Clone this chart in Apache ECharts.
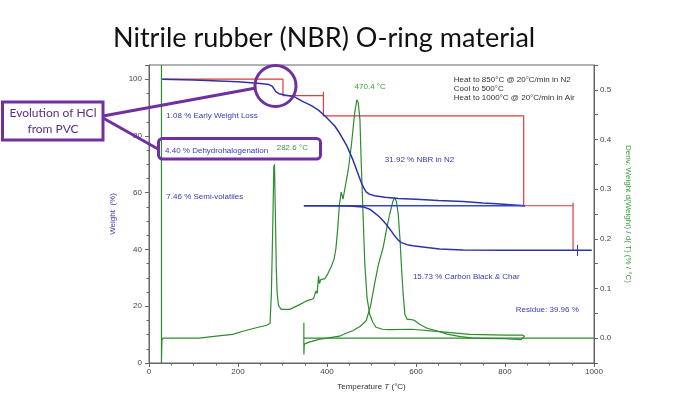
<!DOCTYPE html>
<html>
<head>
<meta charset="utf-8">
<title>Nitrile rubber (NBR) O-ring material</title>
<script src="https://cdn.jsdelivr.net/npm/echarts@6/dist/echarts.min.js"></script>
<style>
  html, body { margin: 0; padding: 0; background: #fff; }
  #chart { width: 677px; height: 400px; }
</style>
</head>
<body>
<div id="chart"></div>
<script>
  // weight (%) vs temperature (°C)
  const weightN2 = [
    [30, 100], [100, 99.7], [200, 99.1], [250, 98.5], [270, 98.1], [277, 97.5],
    [281, 96.6], [285, 95.6], [292, 94.9], [305, 94.4], [327, 93.8], [345, 92.2],
    [365, 90.7], [380, 89.2], [395, 87.1], [405, 85.5], [417, 83.6], [427, 81.3],
    [436, 78.9], [444, 76.7], [451, 74.2], [459, 71.3], [466, 68.3], [472, 65.7],
    [477, 63.6], [483, 61.6], [488, 60.3], [495, 59.5], [507, 58.9], [530, 58.4],
    [560, 58.0], [600, 57.7], [650, 57.3], [706, 56.9], [750, 56.4], [781, 56.1],
    [820, 55.7], [845, 55.4]
  ];
  const weightCool = [[845, 55.4], [348, 55.4]];
  const weightAir = [
    [348, 55.4], [400, 55.4], [450, 55.3], [481, 55.0], [496, 54.2], [511, 52.4],
    [522, 50.8], [533, 48.9], [543, 46.8], [552, 44.8], [560, 43.3], [567, 42.4],
    [580, 41.7], [593, 41.3], [620, 40.8], [653, 40.2], [706, 39.8], [800, 39.75],
    [995, 39.75]
  ];
  const residueMark = [[963, 41.6], [963, 37.7]];

  // step-analysis brackets (red)
  const stepLines = [
    [28, 100], [301, 100], [301, 94.2], [392, 94.2], [392, 95.6], [392, 87.1],
    [842, 87.1], [842, 87.7], [842, 55.4], [953, 55.4], [953, 56.5], [953, 39.75]
  ];

  // derivative d(W)/d(T) (%/°C)
  const derivN2 = [
    [28, 0.55], [28, -0.05], [29, -0.005], [31, 0.0], [60, 0.0], [113, 0.0],
    [151, 0.004], [188, 0.0075], [211, 0.014], [241, 0.021], [265, 0.026],
    [272, 0.03], [275, 0.09], [278, 0.22], [280.5, 0.345], [282, 0.35],
    [284, 0.25], [286, 0.14], [288, 0.09], [291, 0.066], [297, 0.058],
    [316, 0.058], [335, 0.066], [354, 0.075], [365, 0.078], [370, 0.08],
    [375, 0.095], [378, 0.09], [381, 0.125], [383, 0.11], [386, 0.118],
    [395, 0.12], [402, 0.13], [410, 0.145], [416, 0.16], [420, 0.18],
    [424, 0.22], [428, 0.27], [432, 0.294], [436, 0.28], [440, 0.3],
    [448, 0.34], [455, 0.39], [462, 0.452], [467, 0.48], [470, 0.475],
    [474, 0.44], [477, 0.351], [481, 0.25], [485, 0.149], [490, 0.081],
    [496, 0.048], [503, 0.032], [510, 0.022], [525, 0.018], [540, 0.017],
    [590, 0.018], [640, 0.014], [721, 0.0075], [800, 0.006], [840, 0.006],
    [844, 0.004]
  ];
  const derivCool = [[844, 0.004], [836, -0.003], [800, -0.001], [700, 0.0], [348, 0.0]];
  const derivAir = [
    [348, 0.0], [348, 0.031], [348, -0.033], [349, -0.012], [360, -0.008],
    [384, -0.002], [400, 0.0], [428, 0.004], [443, 0.01], [458, 0.015],
    [475, 0.024], [488, 0.035], [498, 0.065], [507, 0.11], [516, 0.15],
    [526, 0.182], [534, 0.22], [541, 0.25], [548, 0.275], [552, 0.283],
    [556, 0.275], [560, 0.25], [564, 0.2], [567, 0.149], [571, 0.09],
    [575, 0.048], [580, 0.038], [586, 0.038], [590, 0.04], [596, 0.036],
    [608, 0.028], [625, 0.02], [646, 0.015], [670, 0.008], [700, 0.003],
    [730, 0.0], [1000, 0.0]
  ];

  const weightTicks = [0, 20, 40, 60, 80, 100];
  const derivTicks = [0, 0.1, 0.2, 0.3, 0.4, 0.5];

  // annotation texts anchored in (°C, weight %) coordinates
  const stepLabels = [
    { text: '1.08 % Early Weight Loss', at: [39, 87.1], color: 'blue' },
    { text: '4.40 % Dehydrohalogenation', at: [36, 74.8], color: 'blue' },
    { text: '282.6 °C', at: [287, 75.8], color: 'green' },
    { text: '7.46 % Semi-volatiles', at: [39, 58.6], color: 'blue' },
    { text: '470.4 °C', at: [462, 97.4], color: 'green' },
    { text: '31.92 % NBR in N2', at: [530, 71.6], color: 'blue' },
    { text: '15.73 % Carbon Black & Char', at: [593, 30.3], color: 'blue' },
    { text: 'Residue: 39.96 %', at: [824, 18.7], color: 'blue' },
    { text: 'Heat to 850°C @ 20°C/min in N2', at: [685, 99.8], color: 'dark' },
    { text: 'Cool to 500°C', at: [685, 96.5], color: 'dark' },
    { text: 'Heat to 1000°C @ 20°C/min in Air', at: [685, 93.4], color: 'dark' }
  ];

  const COLORS = {
    blue: '#2b34a6',
    blueText: '#3a3ab8',
    green: '#2e8b2e',
    greenText: '#3d9b3d',
    red: '#d83c3c',
    dark: '#333',
    axis: '#666',
    purple: '#7030a0'
  };
  const FONT = '"Liberation Sans", Arial, sans-serif';

  const chart = echarts.init(document.getElementById('chart'));

  const lineSeries = (name, data, color, yAxisIndex, width, z) => ({
    name,
    type: 'line',
    data,
    yAxisIndex,
    symbol: 'none',
    showSymbol: false,
    silent: true,
    z,
    lineStyle: { color, width },
    itemStyle: { color }
  });

  const axisCommon = {
    axisLine: { show: true, lineStyle: { color: COLORS.axis, width: 1 } },
    axisTick: { show: true, length: 4, lineStyle: { color: COLORS.axis } },
    minorTick: { show: true, length: 2.5, lineStyle: { color: COLORS.axis } },
    splitLine: { show: false },
    minorSplitLine: { show: false }
  };

  chart.setOption({
    animation: false,
    backgroundColor: '#fff',
    title: {
      text: 'Nitrile rubber (NBR) O-ring material',
      left: 108,
      top: 20,
      textStyle: { fontFamily: 'Lato', fontSize: 27, fontWeight: 'normal', color: '#111' }
    },
    grid: {
      left: 149, right: 83, top: 65, bottom: 37,
      show: true, borderColor: COLORS.axis, borderWidth: 1, containLabel: false
    },
    xAxis: {
      type: 'value', min: 0, max: 1000, interval: 200,
      ...axisCommon,
      minorTick: { ...axisCommon.minorTick, splitNumber: 4 },
      axisLabel: {
        fontSize: 8, color: '#444', fontFamily: FONT, margin: 5,
        formatter: v => String(v)
      },
      name: '{a|Temperature }{i|T}{a| (°C)}',
      nameLocation: 'middle',
      nameGap: 20,
      nameTextStyle: {
        rich: {
          a: { fontSize: 8, color: COLORS.dark, fontFamily: FONT },
          i: { fontSize: 8, color: COLORS.dark, fontFamily: FONT, fontStyle: 'italic' }
        }
      }
    },
    yAxis: [
      {
        type: 'value', position: 'left', min: 0, max: 105, interval: 20,
        ...axisCommon,
        minorTick: { ...axisCommon.minorTick, splitNumber: 4 },
        axisLabel: {
          fontSize: 8, color: '#444', fontFamily: FONT, margin: 7,
          showMaxLabel: false,
          formatter: v => (weightTicks.includes(v) ? String(v) : '')
        },
        name: 'Weight  (%)',
        nameLocation: 'middle',
        nameGap: 32,
        nameTextStyle: { fontSize: 8, color: COLORS.blueText, fontFamily: FONT }
      },
      {
        type: 'value', position: 'right', min: -0.05, max: 0.55, interval: 0.05,
        ...axisCommon,
        minorTick: { show: false },
        axisLabel: {
          fontSize: 8, color: '#444', fontFamily: FONT, margin: 6,
          formatter: v => {
            const hit = derivTicks.find(t => Math.abs(t - v) < 1e-6);
            return hit === undefined ? '' : hit.toFixed(1);
          }
        },
        name: 'Deriv. Weight d(Weight) / d( T) (% / °C)',
        nameLocation: 'middle',
        nameRotate: -90,
        nameGap: 30,
        nameTextStyle: { fontSize: 8, color: COLORS.greenText, fontFamily: FONT }
      }
    ],
    series: [
      lineSeries('steps', stepLines, COLORS.red, 0, 1.2, 2),
      lineSeries('deriv N2', derivN2, COLORS.green, 1, 1.2, 3),
      lineSeries('deriv cool', derivCool, COLORS.green, 1, 1.2, 3),
      lineSeries('deriv air', derivAir, COLORS.green, 1, 1.2, 3),
      lineSeries('weight N2', weightN2, COLORS.blue, 0, 1.5, 4),
      lineSeries('weight cool', weightCool, '#3545d0', 0, 1.3, 4),
      lineSeries('weight air', weightAir, COLORS.blue, 0, 1.5, 4),
      lineSeries('residue', residueMark, COLORS.blue, 0, 1, 4)
    ]
  });

  // texts inside the plot, placed through the axes
  const textColor = { blue: COLORS.blueText, green: COLORS.greenText, dark: COLORS.dark };
  const labelGraphics = stepLabels.map(l => {
    const [x, y] = chart.convertToPixel({ xAxisIndex: 0, yAxisIndex: 0 }, l.at);
    return {
      type: 'text',
      x, y,
      z: 10,
      silent: true,
      style: {
        text: l.text,
        fill: textColor[l.color],
        font: '8px ' + FONT,
        textAlign: 'left',
        textVerticalAlign: 'middle'
      }
    };
  });

  // purple call-out drawn over the chart
  const calloutGraphics = [
    {
      type: 'line', z: 20, silent: true,
      shape: { x1: 103, y1: 116, x2: 256, y2: 88 },
      style: { stroke: COLORS.purple, lineWidth: 3 }
    },
    {
      type: 'line', z: 20, silent: true,
      shape: { x1: 103, y1: 118, x2: 158, y2: 149 },
      style: { stroke: COLORS.purple, lineWidth: 3 }
    },
    {
      type: 'circle', z: 20, silent: true,
      shape: { cx: 275.5, cy: 86, r: 20.5 },
      style: { fill: 'none', stroke: COLORS.purple, lineWidth: 3 }
    },
    {
      type: 'rect', z: 20, silent: true,
      shape: { x: 158.5, y: 138.5, width: 162, height: 20.5, r: 4 },
      style: { fill: 'none', stroke: COLORS.purple, lineWidth: 3 }
    },
    {
      type: 'rect', z: 21, silent: true,
      shape: { x: 2.5, y: 102, width: 100.5, height: 38 },
      style: { fill: '#fff', stroke: COLORS.purple, lineWidth: 3 }
    },
    {
      type: 'text', z: 22, silent: true,
      x: 53, y: 121,
      style: {
        text: 'Evolution of HCl\nfrom PVC',
        fill: '#5a2d8c',
        font: '12px Lato, sans-serif',
        lineHeight: 16,
        textAlign: 'center',
        textVerticalAlign: 'middle'
      }
    }
  ];

  chart.setOption({ graphic: labelGraphics.concat(calloutGraphics) });
</script>
</body>
</html>
